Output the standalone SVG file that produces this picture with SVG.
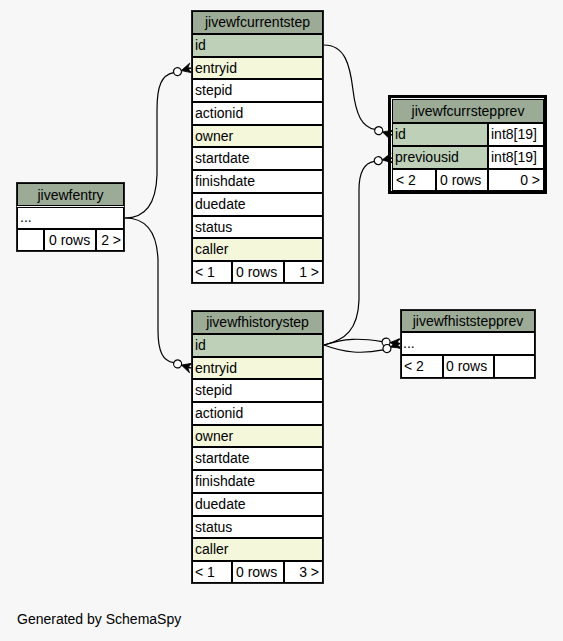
<svg xmlns="http://www.w3.org/2000/svg" width="563" height="641" viewBox="0 0 563 641">
<style>
text{font-family:"Liberation Sans",Arial,sans-serif;font-size:14px;fill:#000}
.c{text-anchor:middle}
.e{text-anchor:end}
.tb{fill:none;stroke:#222;stroke-width:1}
.hd{fill:#9bab96;stroke:#000;stroke-width:1}
.pk{fill:#bed1b8;stroke:#000;stroke-width:1}
.ix{fill:#f4f7da;stroke:#000;stroke-width:1}
.w{fill:#fff;stroke:#000;stroke-width:1}
.ln{fill:none;stroke:#000;stroke-width:1.2}
.od{fill:#fff;stroke:#000;stroke-width:1.2}
.cr{fill:#000;stroke:#000;stroke-width:0.8}
</style>
<defs>
<g id="crow">
<polygon class="cr" points="-10,0 0,-5 -3,-1 0,0 -3,1 0,5"/>
<circle class="od" cx="-14" cy="0" r="4"/>
</g>
</defs>
<rect x="0" y="0" width="563" height="641" fill="#f7f7f7"/>

<g id="connectors">
<path class="ln" d="M125,218 C145,218 156,205 157,175 L157,110 C157,85 162,75 173.6,72.7"/>
<use href="#crow" transform="translate(191,68) rotate(-15)"/>
<path class="ln" d="M125,218 C145,218 157,230 158,260 L158,330 C158,352 163,361 173.8,362.7"/>
<use href="#crow" transform="translate(191,368) rotate(17)"/>
<path class="ln" d="M324,45 C345,45 350,65 353,90 C356,115 362,127 374.9,129.4"/>
<use href="#crow" transform="translate(392,135) rotate(18)"/>
<path class="ln" d="M324,345 C345,340 358,330 359,300 L359,190 C359,172 364,163 374.3,161.4"/>
<use href="#crow" transform="translate(392,158) rotate(-11)"/>
<path class="ln" d="M324,345 C345,338 360,338 382.1,341.6"/>
<use href="#crow" transform="translate(400,343.5) rotate(6)"/>
<path class="ln" d="M324,345 C345,353 362,354 383.2,349.9"/>
<use href="#crow" transform="translate(400,343.5) rotate(-21)"/>
</g>

<g id="jivewfcurrentstep">
<rect class="hd" x="192.5" y="11.5" width="130" height="22"/>
<rect class="pk" x="192.5" y="34.5" width="130" height="22"/>
<rect class="ix" x="192.5" y="57.5" width="130" height="21"/>
<rect class="w" x="192.5" y="79.5" width="130" height="22"/>
<rect class="w" x="192.5" y="102.5" width="130" height="22"/>
<rect class="ix" x="192.5" y="125.5" width="130" height="21"/>
<rect class="w" x="192.5" y="147.5" width="130" height="22"/>
<rect class="w" x="192.5" y="170.5" width="130" height="22"/>
<rect class="w" x="192.5" y="193.5" width="130" height="22"/>
<rect class="w" x="192.5" y="216.5" width="130" height="21"/>
<rect class="ix" x="192.5" y="238.5" width="130" height="22"/>
<rect class="w" x="192.5" y="261.5" width="39" height="21"/>
<rect class="w" x="232.5" y="261.5" width="51" height="21"/>
<rect class="w" x="284.5" y="261.5" width="38" height="21"/>
<rect class="tb" x="191.5" y="10.5" width="132" height="273"/>
<text class="c" x="257.5" y="27">jivewfcurrentstep</text>
<text x="195" y="50">id</text>
<text x="195" y="73">entryid</text>
<text x="195" y="95">stepid</text>
<text x="195" y="118">actionid</text>
<text x="195" y="141">owner</text>
<text x="195" y="163">startdate</text>
<text x="195" y="186">finishdate</text>
<text x="195" y="209">duedate</text>
<text x="195" y="232">status</text>
<text x="195" y="254">caller</text>
<text x="195" y="277">&lt; 1</text>
<text x="236" y="277">0 rows</text>
<text class="e" x="319" y="277">1 &gt;</text>
</g>

<g id="jivewfhistorystep">
<rect class="hd" x="192.5" y="311.5" width="130" height="22"/>
<rect class="pk" x="192.5" y="334.5" width="130" height="22"/>
<rect class="ix" x="192.5" y="357.5" width="130" height="21"/>
<rect class="w" x="192.5" y="379.5" width="130" height="22"/>
<rect class="w" x="192.5" y="402.5" width="130" height="22"/>
<rect class="ix" x="192.5" y="425.5" width="130" height="21"/>
<rect class="w" x="192.5" y="447.5" width="130" height="22"/>
<rect class="w" x="192.5" y="470.5" width="130" height="22"/>
<rect class="w" x="192.5" y="493.5" width="130" height="22"/>
<rect class="w" x="192.5" y="516.5" width="130" height="21"/>
<rect class="ix" x="192.5" y="538.5" width="130" height="22"/>
<rect class="w" x="192.5" y="561.5" width="39" height="21"/>
<rect class="w" x="232.5" y="561.5" width="51" height="21"/>
<rect class="w" x="284.5" y="561.5" width="38" height="21"/>
<rect class="tb" x="191.5" y="310.5" width="132" height="273"/>
<text class="c" x="257.5" y="327">jivewfhistorystep</text>
<text x="195" y="350">id</text>
<text x="195" y="373">entryid</text>
<text x="195" y="395">stepid</text>
<text x="195" y="418">actionid</text>
<text x="195" y="441">owner</text>
<text x="195" y="463">startdate</text>
<text x="195" y="486">finishdate</text>
<text x="195" y="509">duedate</text>
<text x="195" y="532">status</text>
<text x="195" y="554">caller</text>
<text x="195" y="577">&lt; 1</text>
<text x="236" y="577">0 rows</text>
<text class="e" x="319" y="577">3 &gt;</text>
</g>

<g id="jivewfentry">
<rect class="hd" x="17.5" y="183.5" width="106" height="22"/>
<rect class="w" x="17.5" y="207.5" width="106" height="21"/>
<rect class="w" x="17.5" y="229.5" width="26" height="21"/>
<rect class="w" x="44.5" y="229.5" width="51" height="21"/>
<rect class="w" x="96.5" y="229.5" width="27" height="21"/>
<rect class="tb" x="16.5" y="182.5" width="108" height="69"/>
<text class="c" x="70.5" y="200">jivewfentry</text>
<text x="20" y="222">...</text>
<text x="49" y="245">0 rows</text>
<text class="e" x="121" y="245">2 &gt;</text>
</g>

<g id="jivewfcurrstepprev">
<rect x="389.5" y="96.5" width="156" height="96" fill="none" stroke="#000" stroke-width="3"/>
<rect class="hd" x="392.5" y="99.5" width="151" height="23"/>
<rect class="pk" x="392.5" y="123.5" width="95" height="22"/>
<rect class="w" x="488.5" y="123.5" width="55" height="22"/>
<rect class="pk" x="392.5" y="146.5" width="95" height="22"/>
<rect class="w" x="488.5" y="146.5" width="55" height="22"/>
<rect class="w" x="392.5" y="169.5" width="43" height="21"/>
<rect class="w" x="436.5" y="169.5" width="51" height="21"/>
<rect class="w" x="488.5" y="169.5" width="55" height="21"/>
<text class="c" x="468" y="116">jivewfcurrstepprev</text>
<text x="395" y="139">id</text>
<text x="491" y="139">int8[19]</text>
<text x="395" y="162">previousid</text>
<text x="491" y="162">int8[19]</text>
<text x="396" y="185">&lt; 2</text>
<text x="440" y="185">0 rows</text>
<text class="e" x="540" y="185">0 &gt;</text>
</g>

<g id="jivewfhiststepprev">
<rect class="hd" x="401.5" y="310.5" width="133" height="21"/>
<rect class="w" x="401.5" y="332.5" width="133" height="22"/>
<rect class="w" x="401.5" y="355.5" width="41" height="22"/>
<rect class="w" x="443.5" y="355.5" width="50" height="22"/>
<rect class="w" x="494.5" y="355.5" width="40" height="22"/>
<rect class="tb" x="400.5" y="309.5" width="135" height="69"/>
<text class="c" x="468" y="326">jivewfhiststepprev</text>
<text x="403" y="348">...</text>
<text x="404" y="371">&lt; 2</text>
<text x="446" y="371">0 rows</text>
</g>

<text x="17" y="624">Generated by SchemaSpy</text>
</svg>
